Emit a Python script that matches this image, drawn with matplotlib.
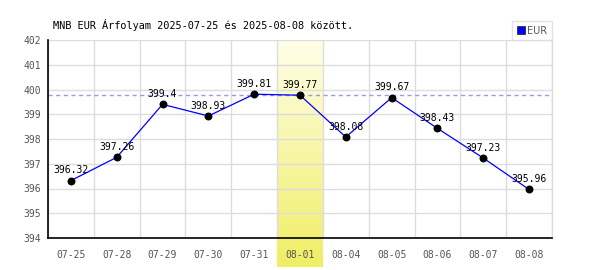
import numpy as np
import matplotlib
matplotlib.use("Agg")
import matplotlib.pyplot as plt
from matplotlib.lines import Line2D

dates = ["07-25", "07-28", "07-29", "07-30", "07-31", "08-01",
         "08-04", "08-05", "08-06", "08-07", "08-08"]
values = [396.32, 397.26, 399.4, 398.93, 399.81, 399.77,
          398.08, 399.67, 398.43, 397.23, 395.96]
highlight_idx = 5
ref_value = 399.77
title = "MNB EUR Árfolyam 2025-07-25 és 2025-08-08 között."
series_name = "EUR"
y_ticks = [394, 395, 396, 397, 398, 399, 400, 401, 402]

mono = "DejaVu Sans Mono"
fig = plt.figure(figsize=(6, 2.7), dpi=100)
ax = fig.add_axes([48/600, 32/270, 504/600, 198/270])
ax.set_facecolor("white")

x = np.arange(len(dates))
ax.set_xlim(-0.5, len(dates) - 0.5)
ax.set_ylim(y_ticks[0], y_ticks[-1])

# grid
ax.set_xticks(x)
ax.set_xticks(np.arange(-0.5, len(dates)), minor=True)
ax.set_yticks(y_ticks)
ax.grid(which="minor", axis="x", color="#dddddd", lw=1, zorder=0.5)
ax.grid(which="major", axis="y", color="#dddddd", lw=1, zorder=0.5)
ax.tick_params(which="both", length=0)
ax.tick_params(axis="both", labelcolor="#555555", labelsize=7)
ax.set_xticklabels(dates, family=mono)
ax.set_yticklabels([str(t) for t in y_ticks], family=mono)
ax.tick_params(axis="x", pad=9)
ax.tick_params(axis="y", pad=5)

ax.spines["top"].set_visible(False)
ax.spines["right"].set_color("#dddddd")
ax.spines["right"].set_linewidth(1)
ax.spines["left"].set_color("black")
ax.spines["bottom"].set_color("black")
ax.spines["left"].set_linewidth(1.2)
ax.spines["bottom"].set_linewidth(1.2)
ax.spines["left"].set_zorder(5)
ax.spines["bottom"].set_zorder(5)

# highlight band with gradient
grad = np.linspace(0, 1, 256).reshape(-1, 1)
top_c = np.array([255, 254, 232]) / 255
bot_c = np.array([240, 238, 100]) / 255
img = top_c[None, None, :] * (1 - grad[:, :, None]) + bot_c[None, None, :] * grad[:, :, None]
ylow = y_ticks[0] - (y_ticks[-1] - y_ticks[0]) * 29 / 198
ax.imshow(img, extent=[highlight_idx - 0.5, highlight_idx + 0.5, ylow, y_ticks[-1]],
          aspect="auto", origin="upper", zorder=1, clip_on=False)
ax.set_xlim(-0.5, len(dates) - 0.5)
ax.set_ylim(y_ticks[0], y_ticks[-1])

# reference dashed line
ax.axhline(ref_value, color="#9999ee", lw=1, ls=(0, (3, 2.5)), zorder=2)

ax.plot(x, values, color="#0000ff", lw=0.9, zorder=3)
ax.scatter(x, values, s=22, color="black", zorder=4)
for xi, v in zip(x, values):
    ax.annotate(f"{v:g}", (xi, v), xytext=(0, 7.5),
                textcoords="offset points", ha="center", va="center",
                family=mono, fontsize=7, color="black", zorder=6)

fig.text(53/600, 1 - 25/270, title, family=mono, fontsize=7.4, color="black",
         ha="left", va="center")

handle = Line2D([], [], marker="s", ls="none", markersize=5.5,
                markerfacecolor="#0000ff", markeredgecolor="#333333", markeredgewidth=0.6)
leg = ax.legend([handle], [series_name], loc="lower right", bbox_to_anchor=(1.0, 1.0),
                frameon=True, fancybox=False, fontsize=7, handlelength=0.8,
                handletextpad=0.3, borderpad=0.45, borderaxespad=0.0,
                labelcolor="#555555")
leg.get_frame().set_edgecolor("#dddddd")
leg.get_frame().set_linewidth(1)

fig.savefig("out.png", dpi=100)
